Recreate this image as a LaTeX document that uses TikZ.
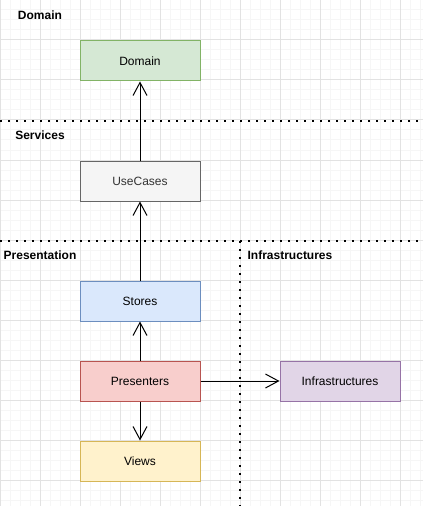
\documentclass[tikz,border=0pt]{standalone}
\usepackage{fontspec}
\setmainfont{Liberation Sans}
\usetikzlibrary{arrows.meta}
\definecolor{gridminor}{HTML}{F6F6F6}
\definecolor{gridmajor}{HTML}{E2E2E2}
\definecolor{dfill}{HTML}{D5E8D4}\definecolor{dline}{HTML}{82B366}
\definecolor{ufill}{HTML}{F5F5F5}\definecolor{uline}{HTML}{666666}\definecolor{utext}{HTML}{333333}
\definecolor{sfill}{HTML}{DAE8FC}\definecolor{sline}{HTML}{6C8EBF}
\definecolor{pfill}{HTML}{F8CECC}\definecolor{pline}{HTML}{B85450}
\definecolor{vfill}{HTML}{FFF2CC}\definecolor{vline}{HTML}{D6B656}
\definecolor{ifill}{HTML}{E1D5E7}\definecolor{iline}{HTML}{9673A6}
\tikzset{
  layerbox/.style={draw, line width=0.75pt, minimum width=90pt, minimum height=30pt, inner sep=0pt, font=\fontsize{9pt}{11pt}\selectfont},
  layerlabel/.style={font=\bfseries\fontsize{9pt}{11pt}\selectfont, inner sep=0pt},
  dep/.style={line width=0.75pt, -{Straight Barb[length=9.75pt, width=10.5pt, line width=0.75pt]}},
  divider/.style={line width=1.5pt, dash pattern=on 1.5pt off 4.5pt}
}
\begin{document}
\begin{tikzpicture}[x=0.75pt, y=-0.75pt]
\useasboundingbox (0,0) rectangle (423,506);
\fill[white] (0,0) rectangle (423,506);
% grid
\foreach \i in {0,10,...,420} {
  \draw[gridminor, line width=0.75pt] (\i,0) -- (\i,506);
}
\foreach \j in {0,10,...,500} {
  \draw[gridminor, line width=0.75pt] (0,\j) -- (423,\j);
}
\foreach \i in {0,40,...,420} {
  \draw[gridmajor, line width=0.75pt] (\i,0) -- (\i,506);
}
\foreach \j in {0,40,...,500} {
  \draw[gridmajor, line width=0.75pt] (0,\j) -- (423,\j);
}
% dividers
\coordinate (h1a) at (0,121); \coordinate (h1b) at (423,121);
\coordinate (h2a) at (0,241); \coordinate (h2b) at (423,241);
\coordinate (v1a) at (240,241); \coordinate (v1b) at (240,506);
\draw[divider] (h1a) -- (h1b);
\draw[divider] (h2a) -- (h2b);
\draw[divider] (v1a) -- (v1b);
% labels
\node[layerlabel] (lDomain) at (40,15) {Domain};
\node[layerlabel] (lServices) at (40,135) {Services};
\node[layerlabel] (lPresentation) at (40,255) {Presentation};
\node[layerlabel] (lInfra) at (290,255) {Infrastructures};
% boxes
\node[layerbox, fill=dfill, draw=dline] (domain) at (140,61) {Domain};
\node[layerbox, fill=ufill, draw=uline, text=utext] (usecases) at (140,181) {UseCases};
\node[layerbox, fill=sfill, draw=sline] (stores) at (140,301) {Stores};
\node[layerbox, fill=pfill, draw=pline] (presenters) at (140,381) {Presenters};
\node[layerbox, fill=vfill, draw=vline] (views) at (140,461) {Views};
\node[layerbox, fill=ifill, draw=iline] (infra) at (340,381) {Infrastructures};
% connectors
\draw[dep] (usecases) -- (domain);
\draw[dep] (stores) -- (usecases);
\draw[dep] (presenters) -- (stores);
\draw[dep] (presenters) -- (views);
\draw[dep] (presenters) -- (infra);
\end{tikzpicture}
\end{document}
